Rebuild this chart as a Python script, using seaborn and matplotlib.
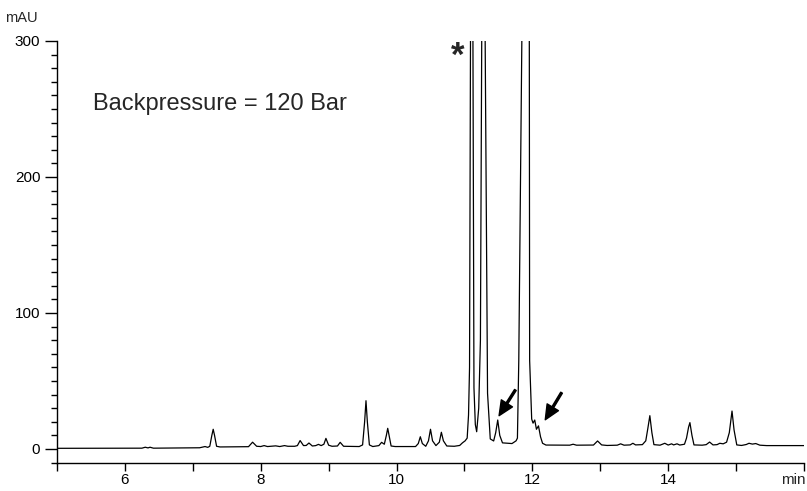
import matplotlib
matplotlib.use("Agg")
import matplotlib.pyplot as plt
from matplotlib.ticker import MultipleLocator, FixedLocator
import seaborn as sns
import pandas as pd

# ---- data (time in min, signal in mAU) ----
time_min = [
    5.00, 6.25, 6.30, 6.34, 6.37, 6.42,
    7.10, 7.18, 7.22, 7.25, 7.28, 7.30, 7.32, 7.35, 7.40,
    7.82, 7.88, 7.94, 8.00, 8.05, 8.10, 8.22, 8.28, 8.35, 8.40, 8.50,
    8.54, 8.58, 8.63, 8.67, 8.71, 8.76, 8.81, 8.85, 8.89, 8.93, 8.96, 9.00,
    9.05, 9.13, 9.17, 9.22, 9.45, 9.50, 9.53, 9.55, 9.57, 9.60, 9.65,
    9.74, 9.78, 9.82, 9.85, 9.87, 9.89, 9.92, 9.98,
    10.28, 10.32, 10.35, 10.38, 10.43, 10.47, 10.50, 10.53, 10.58,
    10.63, 10.66, 10.69, 10.74, 10.85, 10.93, 10.97, 11.01,
    11.04, 11.06, 11.075, 11.09, 11.105, 11.125, 11.14, 11.16, 11.18,
    11.21, 11.235, 11.255, 11.28, 11.305, 11.34, 11.38, 11.43,
    11.46, 11.49, 11.52, 11.56, 11.70, 11.76, 11.78, 11.80, 11.845,
    11.89, 11.955, 11.96, 11.99, 12.01, 12.035, 12.06, 12.09, 12.12,
    12.15, 12.20, 12.55, 12.60, 12.65, 12.90, 12.96, 13.02, 13.10,
    13.25, 13.30, 13.35, 13.44, 13.48, 13.52, 13.62, 13.67, 13.70,
    13.73, 13.76, 13.79, 13.88, 13.95, 14.00, 14.05, 14.08, 14.13,
    14.17, 14.24, 14.27, 14.30, 14.32, 14.35, 14.38, 14.50, 14.56,
    14.61, 14.66, 14.72, 14.76, 14.81, 14.86, 14.90, 14.94, 14.97,
    15.01, 15.08, 15.15, 15.19, 15.24, 15.29, 15.35, 15.45, 16.00,
]
signal_mau = [
    0.5, 0.6, 1.3, 0.8, 1.3, 0.6,
    0.9, 1.8, 1.2, 2.0, 10.0, 14.5, 10.0, 2.0, 1.5,
    1.7, 5.0, 2.0, 1.8, 2.5, 1.8, 2.3, 1.8, 2.5, 2.0, 2.0,
    2.5, 6.2, 2.5, 2.6, 4.4, 2.2, 2.5, 3.4, 2.5, 3.5, 7.8, 2.8,
    2.0, 2.2, 4.9, 2.0, 1.8, 3.0, 20.0, 35.5, 20.0, 3.0, 1.8,
    2.5, 4.9, 3.5, 10.0, 15.2, 10.0, 2.2, 1.8,
    1.8, 4.0, 9.0, 4.0, 2.0, 6.0, 14.5, 6.0, 2.5,
    5.0, 12.3, 6.0, 2.2, 2.0, 2.6, 4.5, 6.0,
    8.0, 25.0, 60.0, 300.0, 1000.0, 300.0, 45.0, 18.0, 12.7,
    30.0, 80.0, 300.0, 700.0, 300.0, 41.0, 7.4, 5.9,
    12.0, 21.3, 10.0, 4.5, 4.0, 6.0, 8.0, 65.0, 300.0,
    2000.0, 300.0, 65.0, 22.0, 19.0, 21.3, 14.5, 17.0, 9.0,
    4.2, 2.9, 2.8, 3.5, 2.8, 2.9, 5.9, 3.0, 2.6,
    2.8, 3.8, 2.8, 3.0, 4.2, 3.0, 3.2, 6.0, 15.0,
    24.5, 12.0, 3.2, 2.8, 4.2, 2.9, 3.8, 3.0, 3.8,
    2.9, 3.5, 8.0, 16.0, 19.4, 10.0, 3.0, 2.8, 3.2,
    5.1, 3.0, 3.2, 4.2, 3.8, 5.0, 12.0, 27.9, 14.0,
    3.0, 2.6, 3.3, 4.2, 3.6, 4.0, 2.8, 2.5, 2.5,
]
x_tick_values = [5, 6, 7, 8, 9, 10, 11, 12, 13, 14, 15, 16]
x_tick_labels = ["", "6", "", "8", "", "10", "", "12", "", "14", "", ""]
y_tick_values = [0, 100, 200, 300]
y_tick_labels = ["0", "100", "200", "300"]

# annotation positions (arrow tails/tips) in data units
arrow_tails = [(11.75, 43.4), (12.43, 41.4)]
arrow_tips = [(11.51, 24.5), (12.19, 21.5)]

df = pd.DataFrame({"time": time_min, "signal": signal_mau})

sns.set_theme(style="ticks")
plt.rcParams["font.family"] = ["Liberation Sans", "DejaVu Sans"]

fig = plt.figure(figsize=(8.07, 4.91), dpi=100)
ax = fig.add_axes([57 / 807, 1 - 463 / 491, (804 - 57) / 807, (463 - 41) / 491])

sns.lineplot(data=df, x="time", y="signal", ax=ax, color="black",
             linewidth=0.9, sort=False, estimator=None)

ax.set_xlim(5, 16)
ax.set_ylim(-10.3, 300)
ax.set_xlabel("")
ax.set_ylabel("")

for s in ["top", "right"]:
    ax.spines[s].set_visible(False)
for s in ["left", "bottom"]:
    ax.spines[s].set_linewidth(1.0)
    ax.spines[s].set_color("black")

ax.xaxis.set_major_locator(FixedLocator(x_tick_values))
ax.set_xticklabels(x_tick_labels)
ax.yaxis.set_major_locator(FixedLocator(y_tick_values))
ax.set_yticklabels(y_tick_labels)
ax.yaxis.set_minor_locator(MultipleLocator(10))

ax.tick_params(axis="x", which="major", direction="out", length=6, width=1,
               pad=1.5, labelsize=11, colors="black")
ax.tick_params(axis="y", which="major", direction="out", length=8.5, width=1,
               pad=3.5, labelsize=11, colors="black")
ax.tick_params(axis="y", which="minor", direction="out", length=4.3, width=1,
               colors="black")

# unit labels
fig.text(5 / 807, 1 - 18 / 491, "mAU", ha="left", va="center", fontsize=10.5)
ax.annotate("min", xy=(1.0, 0.0), xycoords="axes fraction",
            xytext=(1, -7.5), textcoords="offset points",
            ha="right", va="top", fontsize=11)

ax.text(5.53, 254, "Backpressure = 120 Bar", ha="left", va="center",
        fontsize=17)
ax.text(10.90, 289, "*", ha="center", va="center", fontsize=25,
        fontweight="bold")

for tail, tip in zip(arrow_tails, arrow_tips):
    ax.annotate("", xy=tip, xytext=tail,
                arrowprops=dict(facecolor="black", edgecolor="black",
                                width=1.4, headwidth=9.5, headlength=10.5,
                                shrink=0))

fig.savefig("out.png", dpi=100)
